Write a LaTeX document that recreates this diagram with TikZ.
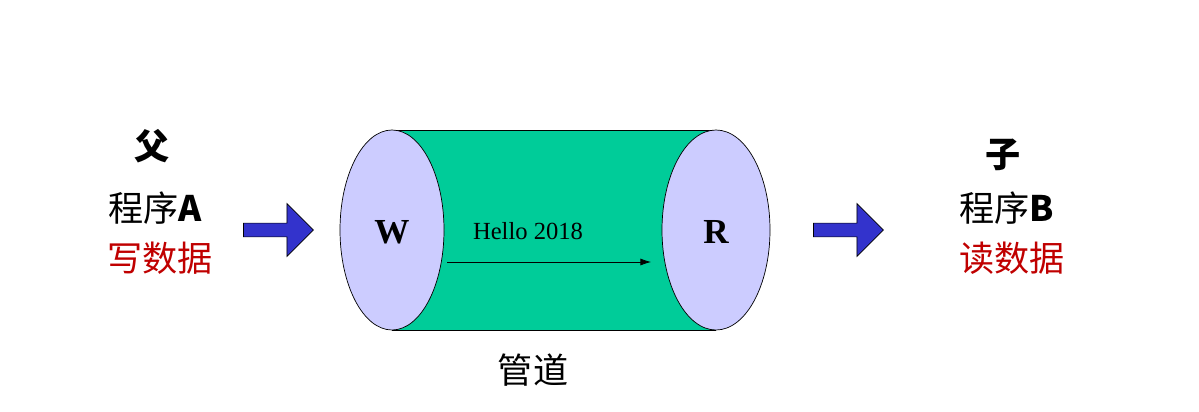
\documentclass[tikz,border=0pt]{standalone}
\usepackage{fontspec}
\setmainfont{Liberation Serif}
\newfontfamily\cjk{Noto Sans CJK SC}
\usetikzlibrary{arrows.meta,positioning,shapes.arrows}
\definecolor{pipegreen}{RGB}{0,204,153}
\definecolor{endblue}{RGB}{204,204,255}
\definecolor{arrowblue}{RGB}{51,51,204}
\definecolor{datared}{RGB}{192,0,0}
\tikzset{
    semithick,
    cjktext/.style = {font=\cjk\fontsize{20}{22}\selectfont, inner sep=0pt},
    bigarrow/.style = {single arrow, draw=black, thin, fill=arrowblue, minimum height=1.4cm, minimum width=1.06cm, single arrow head extend=0.02cm, inner sep=0pt},
    letter/.style = {font=\bfseries\fontsize{20}{22}\selectfont}
}
\begin{document}
\begin{tikzpicture}[x=0.02cm,y=-0.02cm]
	\useasboundingbox (0,0) rectangle (1199,412);
	\fill[white] (0,0) rectangle (1199,412);
	% pipe body
	\fill[pipegreen] (392,130) rectangle (716,330);
	\draw (392,130) -- (716,130) (392,330) -- (716,330);
	\draw[fill=endblue] (716,230) ellipse [x radius=54, y radius=100];
	\draw[fill=endblue] (392,230) ellipse [x radius=52, y radius=100];

	\node[letter] (w) at (392,232) {W};
	\node[letter] (r) at (716,232) {R};
	\node[font=\fontsize{14}{16}\selectfont] (msg) at (528,231) {Hello 2018};
	\coordinate (m1) at (447,262);
	\coordinate (m2) at (651,262);
	\draw[-{Latex[length=6pt,width=4pt]},thin] (m1) -- (m2);
	\node[cjktext] (pipe) at (533,370) {管道};

	% parent side
	\node[cjktext,font=\cjk\bfseries\fontsize{20}{22}\selectfont] (fa) at (152,146) {父};
	\node[cjktext] (pa) at (155,208) {程序\textbf{A}};
	\node[cjktext,text=datared] (wa) at (160,258) {写数据};
	\node[bigarrow] (a1) at (275,230) {};

	% child side
	\node[cjktext,font=\cjk\bfseries\fontsize{20}{22}\selectfont] (ch) at (1003,155) {子};
	\node[cjktext] (pb) at (1007,208) {程序\textbf{B}};
	\node[cjktext,text=datared] (rb) at (1012,258) {读数据};
	\node[bigarrow] (a2) at (845,230) {};
\end{tikzpicture}
\end{document}
